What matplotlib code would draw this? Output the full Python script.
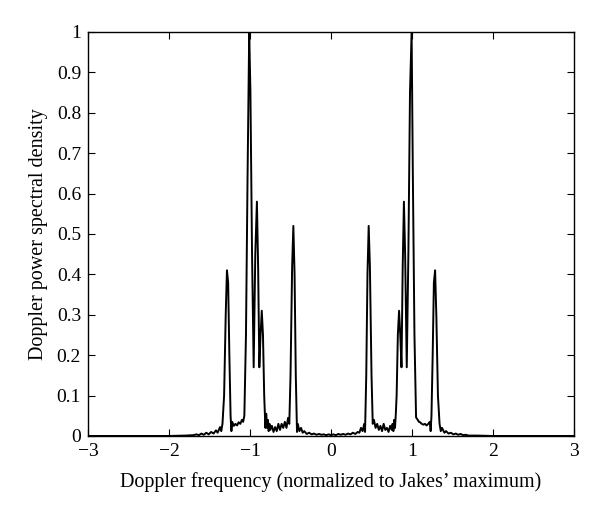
import numpy as np
import matplotlib.pyplot as plt

plt.rcParams['font.family'] = ['Liberation Serif', 'DejaVu Serif']

# Doppler frequency (normalized) and PSD
freq = [-3.0, -2.0, -1.8, -1.7, -1.66, -1.63, -1.60, -1.57, -1.54, -1.51,
        -1.48, -1.45, -1.42, -1.40, -1.37, -1.355, -1.34, -1.32, -1.30, -1.285,
        -1.27, -1.255, -1.24, -1.23, -1.22, -1.20, -1.18, -1.16, -1.14, -1.12,
        -1.10, -1.085, -1.07, -1.05, -1.03, -1.01, -0.995, -0.975, -0.955, -0.935,
        -0.915, -0.90, -0.885, -0.87, -0.855, -0.84, -0.825, -0.81, -0.80, -0.79,
        -0.78, -0.77, -0.76, -0.75, -0.73, -0.71, -0.69, -0.67, -0.65, -0.63,
        -0.61, -0.59, -0.57, -0.55, -0.53, -0.515, -0.50, -0.48, -0.465, -0.45,
        -0.435, -0.42, -0.41, -0.39, -0.37, -0.35, -0.33, -0.30, -0.27, -0.24,
        -0.21, -0.18, -0.15, -0.12, -0.09, -0.06, -0.03, 0.0,
        0.03, 0.06, 0.09, 0.12, 0.15, 0.18, 0.21, 0.24, 0.27, 0.30,
        0.33, 0.35, 0.37, 0.39, 0.41, 0.42, 0.435, 0.45, 0.465, 0.48,
        0.50, 0.515, 0.53, 0.55, 0.57, 0.59, 0.61, 0.63, 0.65, 0.67,
        0.69, 0.71, 0.73, 0.75, 0.76, 0.77, 0.78, 0.79, 0.80, 0.81,
        0.825, 0.84, 0.855, 0.87, 0.885, 0.90, 0.915, 0.935, 0.955, 0.975,
        0.995, 1.01, 1.03, 1.05, 1.07, 1.085, 1.10, 1.12, 1.14, 1.16,
        1.18, 1.20, 1.22, 1.23, 1.24, 1.255, 1.27, 1.285, 1.30, 1.32,
        1.34, 1.355, 1.37, 1.40, 1.42, 1.45, 1.48, 1.51, 1.54, 1.57,
        1.60, 1.63, 1.66, 1.70, 1.80, 2.0, 3.0]
psd = [0.0, 0.0, 0.001, 0.002, 0.004, 0.002, 0.006, 0.003, 0.008, 0.004,
       0.010, 0.006, 0.014, 0.008, 0.022, 0.012, 0.030, 0.10, 0.30, 0.41,
       0.38, 0.20, 0.05, 0.012, 0.035, 0.025, 0.030, 0.026, 0.034, 0.030,
       0.040, 0.035, 0.050, 0.25, 0.65, 1.0, 0.85, 0.45, 0.17, 0.45,
       0.58, 0.42, 0.17, 0.25, 0.31, 0.25, 0.10, 0.02, 0.055, 0.02,
       0.040, 0.012, 0.030, 0.015, 0.025, 0.010, 0.022, 0.012, 0.030, 0.015,
       0.030, 0.020, 0.035, 0.020, 0.045, 0.030, 0.15, 0.42, 0.52, 0.40,
       0.15, 0.010, 0.030, 0.012, 0.020, 0.008, 0.012, 0.005, 0.008, 0.004,
       0.006, 0.003, 0.005, 0.003, 0.004, 0.002, 0.004, 0.002,
       0.004, 0.002, 0.005, 0.003, 0.005, 0.003, 0.006, 0.004, 0.008, 0.005,
       0.010, 0.008, 0.020, 0.012, 0.030, 0.010, 0.15, 0.40, 0.52, 0.42,
       0.15, 0.030, 0.040, 0.020, 0.030, 0.015, 0.025, 0.012, 0.030, 0.015,
       0.020, 0.010, 0.025, 0.015, 0.030, 0.012, 0.040, 0.020, 0.055, 0.10,
       0.25, 0.31, 0.25, 0.17, 0.42, 0.58, 0.45, 0.17, 0.45, 0.85,
       1.0, 0.65, 0.25, 0.046, 0.040, 0.035, 0.034, 0.030, 0.028, 0.030,
       0.026, 0.030, 0.035, 0.012, 0.05, 0.20, 0.38, 0.41, 0.30, 0.10,
       0.030, 0.012, 0.020, 0.008, 0.012, 0.006, 0.008, 0.004, 0.006, 0.003,
       0.005, 0.002, 0.003, 0.001, 0.001, 0.0, 0.0]

xticks = [-3, -2, -1, 0, 1, 2, 3]
yticks = [0, 0.1, 0.2, 0.3, 0.4, 0.5, 0.6, 0.7, 0.8, 0.9, 1]
ytick_labels = ['0', '0.1', '0.2', '0.3', '0.4', '0.5', '0.6', '0.7', '0.8', '0.9', '1']

fig = plt.figure(figsize=(6, 5.14), dpi=100)
ax = fig.add_axes([0.1467, 0.1518, 0.81, 0.786])
ax.plot(freq, psd, color='black', lw=1.4)

ax.set_xlim(-3, 3)
ax.set_ylim(0, 1)
ax.set_xticks(xticks)
ax.set_xticklabels(['\u2212' + str(-t) if t < 0 else str(t) for t in xticks])
ax.set_yticks(yticks)
ax.set_yticklabels(ytick_labels)
ax.tick_params(direction='in', top=True, right=True, length=5, width=0.8,
               labelsize=14, pad=5)
for s in ax.spines.values():
    s.set_linewidth(1.0)

ax.set_xlabel('Doppler frequency (normalized to Jakes\u2019 maximum)', fontsize=14.5, labelpad=9)
ax.set_ylabel('Doppler power spectral density', fontsize=14.5, labelpad=6)

fig.savefig('out.png', dpi=100)
